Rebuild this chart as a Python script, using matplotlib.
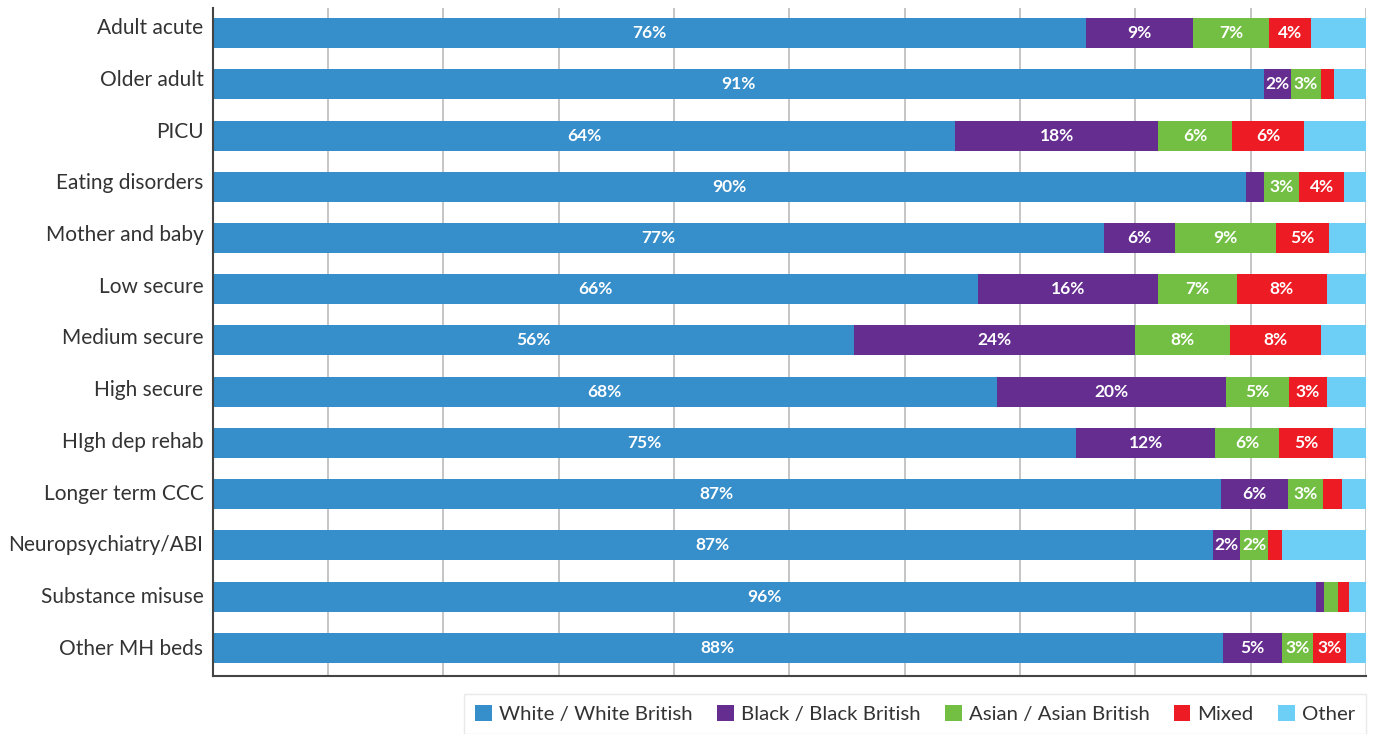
import matplotlib
matplotlib.use("Agg")
import matplotlib.pyplot as plt
import numpy as np

plt.rcParams['font.family'] = ['Lato', 'DejaVu Sans']

categories = ["Adult acute", "Older adult", "PICU", "Eating disorders",
              "Mother and baby", "Low secure", "Medium secure", "High secure",
              "HIgh dep rehab", "Longer term CCC", "Neuropsychiatry/ABI",
              "Substance misuse", "Other MH beds"]

white = [75.7, 91.2, 64.4, 89.6, 77.3, 66.4, 55.6, 68.0, 74.9, 87.4, 86.7, 95.7, 87.6]
black = [9.3, 2.3, 17.6, 1.6, 6.1, 15.6, 24.4, 19.9, 12.0, 5.8, 2.4, 0.7, 5.1]
asian = [6.6, 2.6, 6.4, 3.0, 8.8, 6.8, 8.2, 5.4, 5.6, 3.1, 2.4, 1.2, 2.7]
mixed = [3.6, 1.1, 6.2, 3.9, 4.6, 7.8, 7.9, 3.3, 4.6, 1.6, 1.2, 0.9, 2.9]
other = [4.8, 2.8, 5.4, 1.9, 3.2, 3.4, 3.9, 3.4, 2.9, 2.1, 7.3, 1.5, 1.7]

series = [("White / White British", white, "#368ECA", True),
          ("Black / Black British", black, "#652D90", True),
          ("Asian / Asian British", asian, "#72BF44", True),
          ("Mixed", mixed, "#ED1C24", True),
          ("Other", other, "#6DCFF6", False)]

fig = plt.figure(figsize=(13.75, 7.34), dpi=100)
ax = fig.add_axes([212.5/1375, 1-676/734, (1366-212.5)/1375, (676-8)/734])

y = np.arange(len(categories))
left = np.zeros(len(categories))
for name, vals, col, show in series:
    vals = np.array(vals)
    ax.barh(y, vals, left=left, height=0.585, color=col, label=name, zorder=2)
    if show:
        for yi, l, v in zip(y, left, vals):
            if v >= 2:
                ax.text(l + v/2, yi, f"{v:.0f}%", ha='center', va='center',
                        color='white', fontsize=12.5, fontweight='bold', zorder=3)
    left += vals

ax.set_xlim(0, 100)
ax.set_ylim(12.55, -0.49)
ax.set_xticks(np.arange(10, 101, 10))
ax.set_xticklabels([])
# category labels sit a little higher towards the top of the chart
n = len(categories) - 1
ax.set_yticks(y - (1 + 6 * (n - y) / n) / 51.25)
ax.set_yticklabels(categories, fontsize=15, color='#333333')
ax.tick_params(axis='both', length=0)
ax.tick_params(axis='y', pad=6.5)
ax.grid(axis='x', color='#bbbbbb', linewidth=1.2, zorder=0)
ax.set_axisbelow(True)
for s in ['top', 'right']:
    ax.spines[s].set_visible(False)
for s in ['left', 'bottom']:
    ax.spines[s].set_color('#444444')
    ax.spines[s].set_linewidth(1.5)

leg = fig.legend(loc='center right', bbox_to_anchor=(1366/1375, 1-714/734),
                 borderaxespad=0, ncol=5, fontsize=14.7, frameon=True,
                 fancybox=False, edgecolor='#e4e4e4', handlelength=0.83,
                 handleheight=0.83, handletextpad=0.34, columnspacing=1.18,
                 borderpad=0.55, labelcolor='#333333')
leg.get_frame().set_linewidth(1.0)

fig.savefig("out.png", dpi=100)
